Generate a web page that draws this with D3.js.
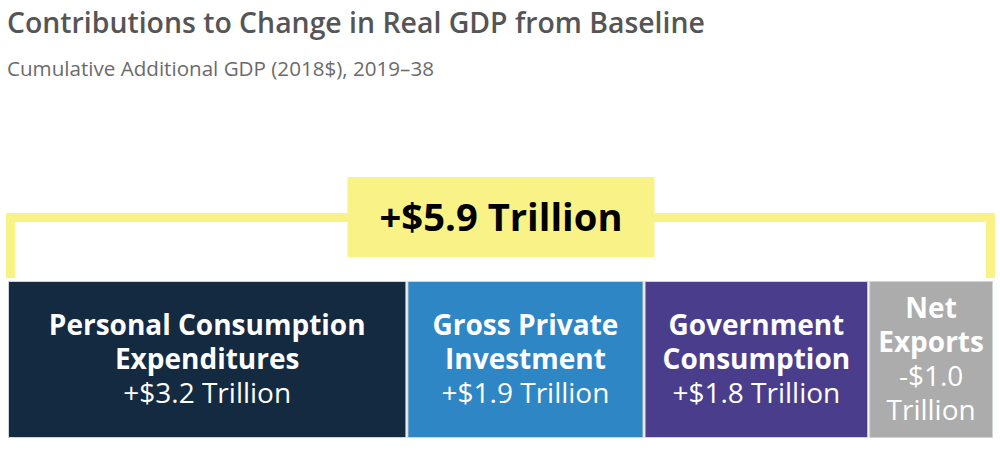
<!DOCTYPE html>
<html>
<head>
<meta charset="utf-8">
<script src="https://cdn.jsdelivr.net/npm/d3@7"></script>
<style>
  body { margin: 0; background: #fff; }
  text { font-family: "Open Sans", sans-serif; }
</style>
</head>
<body>
<div id="vis-container"></div>
<script>
// Chart data
var titleText = "Contributions to Change in Real GDP from Baseline";
var subtitleText = "Cumulative Additional GDP (2018$), 2019\u201338";
var totalLabel = "+$5.9 Trillion";

var categories = ["Personal Consumption Expenditures", "Gross Private Investment", "Government Consumption", "Net Exports"];
var values = [3.2, 1.9, 1.8, -1.0];
var nameLines = [
    ["Personal Consumption", "Expenditures"],
    ["Gross Private", "Investment"],
    ["Government", "Consumption"],
    ["Net", "Exports"]
];
var valueLines = [
    ["+$3.2 Trillion"],
    ["+$1.9 Trillion"],
    ["+$1.8 Trillion"],
    ["-$1.0", "Trillion"]
];
var colors = ["#132a40", "#2e86c4", "#4a3e8c", "#acacac"];

var width = 1000;
var height = 452;

var svg = d3.select("#vis-container").append("svg")
    .attr("width", width)
    .attr("height", height);

// title + subtitle
svg.append("text")
    .attr("x", 7)
    .attr("y", 33)
    .attr("font-size", 28.4)
    .attr("font-weight", 600)
    .attr("fill", "#555555")
    .text(titleText);

svg.append("text")
    .attr("x", 7)
    .attr("y", 76)
    .attr("font-size", 20.6)
    .attr("fill", "#6b6b6b")
    .text(subtitleText);

// segments are sized by absolute contribution
var segData = [];
var acc = 0;
values.forEach((v, i) => {
    segData.push({
        name: categories[i],
        value: v,
        start: acc,
        end: acc + Math.abs(v),
        names: nameLines[i],
        vals: valueLines[i],
        color: colors[i]
    });
    acc += Math.abs(v);
});

var xScale = d3.scaleLinear()
    .domain([0, d3.sum(values, d => Math.abs(d))])
    .range([8, 994]);

var barTop = 281;
var barBottom = 438;
var barMid = (barTop + barBottom) / 2;
var lineH = 34;
var fontSize = 28;

// bracket over the whole bar
var bw = 9;
var bracketY = 213 + bw / 2;
var bx0 = xScale.range()[0] - 2 + bw / 2;
var bx1 = xScale.range()[1] + 1 - bw / 2;
svg.append("path")
    .attr("d", d3.line()([[bx0, 278], [bx0, bracketY], [bx1, bracketY], [bx1, 278]]))
    .attr("fill", "none")
    .attr("stroke", "#f8f287")
    .attr("stroke-width", bw);

var cx = (xScale.range()[0] + xScale.range()[1]) / 2;
svg.append("rect")
    .attr("x", cx - 153.5)
    .attr("y", 177)
    .attr("width", 307)
    .attr("height", 80)
    .attr("fill", "#f8f287");

svg.append("text")
    .attr("x", cx)
    .attr("y", 231)
    .attr("text-anchor", "middle")
    .attr("font-size", 38.2)
    .attr("font-weight", 700)
    .attr("fill", "#000")
    .text(totalLabel);

// bar segments
var segs = svg.selectAll("g.seg")
    .data(segData).enter()
    .append("g")
    .attr("class", "seg");

segs.append("rect")
    .attr("x", d => xScale(d.start) + 0.5)
    .attr("y", barTop + 0.5)
    .attr("width", d => xScale(d.end) - xScale(d.start) - 2)
    .attr("height", barBottom - barTop - 1)
    .attr("fill", d => d.color)
    .attr("stroke", "#cfd4da")
    .attr("stroke-width", 1);

segs.each(function (d) {
    var g = d3.select(this);
    var lines = d.names.map(t => ({ t: t, bold: true }))
        .concat(d.vals.map(t => ({ t: t, bold: false })));
    var n = lines.length;
    var midX = (xScale(d.start) + xScale(d.end) - 1) / 2;
    // first baseline so the block is centred vertically
    var y0 = barMid - (n - 1) * lineH / 2 + 19 / 2;
    g.selectAll("text")
        .data(lines).enter()
        .append("text")
        .attr("x", midX)
        .attr("y", (l, i) => y0 + i * lineH)
        .attr("text-anchor", "middle")
        .attr("font-size", fontSize)
        .attr("font-weight", l => l.bold ? 700 : 400)
        .attr("fill", "#ffffff")
        .text(l => l.t);
});
</script>
</body>
</html>
